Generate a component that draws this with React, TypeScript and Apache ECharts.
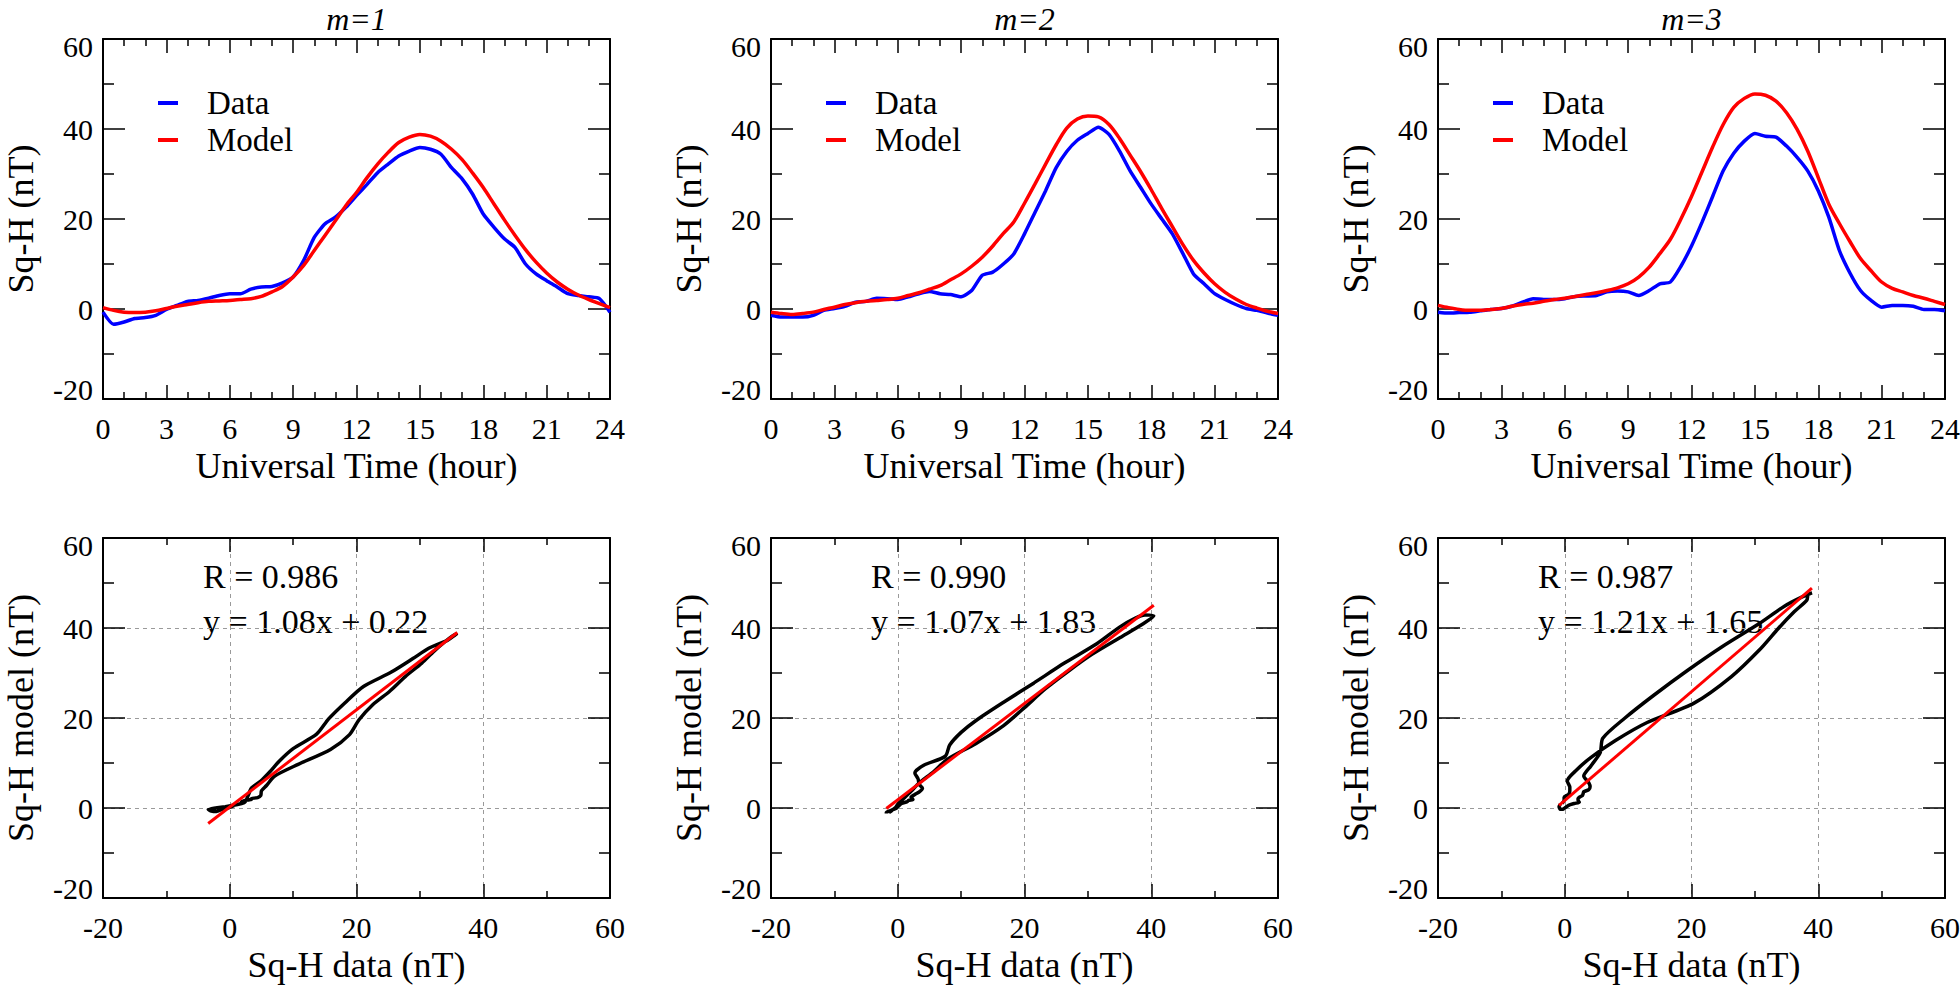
import React, { useEffect, useRef } from "react";
import * as echarts from "echarts";

// ---------- data ----------
const HOURS = [0, 0.5, 1, 1.5, 2, 2.5, 3, 3.5, 4, 4.5, 5, 5.5, 6, 6.5, 7, 7.5, 8, 8.5, 9, 9.5, 10, 10.5, 11, 11.5, 12, 12.5, 13, 13.5, 14, 14.5, 15, 15.5, 16, 16.5, 17, 17.5, 18, 18.5, 19, 19.5, 20, 20.5, 21, 21.5, 22, 22.5, 23, 23.5, 24];

const DATA_M1 = [-0.7, -3.4, -2.9, -2.1, -1.9, -1.4, -0.1, 0.8, 1.7, 1.9, 2.4, 3.0, 3.4, 3.4, 4.4, 4.9, 5.0, 5.8, 7.1, 10.8, 15.9, 18.9, 20.4, 22.6, 25.2, 27.7, 30.3, 32.2, 34.0, 35.1, 35.9, 35.5, 34.4, 31.4, 28.9, 25.5, 21.1, 18.2, 15.6, 13.7, 10.0, 7.8, 6.3, 4.9, 3.4, 3.0, 2.7, 2.3, -0.7];
const MODEL_M1 = [0.3, -0.3, -0.7, -0.8, -0.7, -0.4, 0.1, 0.6, 1.0, 1.4, 1.7, 1.8, 1.9, 2.1, 2.3, 2.8, 3.8, 5.0, 7.1, 9.7, 13.0, 16.3, 19.6, 23.0, 25.9, 29.2, 32.2, 34.8, 37.0, 38.2, 38.8, 38.4, 37.3, 35.5, 33.2, 30.2, 27.0, 23.4, 19.8, 16.4, 13.2, 10.4, 8.0, 6.0, 4.4, 3.1, 2.1, 1.2, 0.3];

const DATA_M2 = [-1.4, -1.8, -1.8, -1.8, -1.4, -0.3, 0.1, 0.6, 1.5, 1.7, 2.4, 2.3, 2.1, 2.7, 3.4, 3.9, 3.4, 3.2, 2.7, 4.1, 7.5, 8.2, 10.0, 12.3, 16.7, 21.5, 26.3, 31.4, 35.0, 37.5, 39.0, 40.4, 38.8, 35.1, 30.7, 27.0, 23.3, 20.0, 16.7, 12.3, 7.8, 5.6, 3.4, 2.1, 1.0, 0.1, -0.3, -0.9, -1.4];
const MODEL_M2 = [-0.7, -1.0, -1.2, -1.0, -0.7, -0.1, 0.4, 1.0, 1.4, 1.7, 1.9, 2.1, 2.4, 3.0, 3.6, 4.4, 5.2, 6.5, 7.8, 9.5, 11.5, 14.0, 16.8, 19.4, 23.5, 27.8, 32.2, 36.5, 40.2, 42.2, 42.9, 42.7, 41.0, 37.9, 34.2, 30.5, 26.5, 22.3, 18.3, 14.3, 10.8, 8.0, 5.6, 3.7, 2.2, 1.0, 0.2, -0.5, -1.0];

const DATA_M3 = [-0.7, -0.9, -0.8, -0.7, -0.4, -0.1, 0.1, 0.6, 1.5, 2.3, 2.1, 2.1, 2.3, 2.8, 2.9, 3.0, 3.8, 4.0, 3.8, 3.0, 4.1, 5.6, 6.0, 9.5, 14.0, 19.3, 25.0, 30.7, 34.6, 37.3, 39.0, 38.4, 38.2, 36.2, 33.7, 30.7, 26.3, 20.4, 13.0, 8.0, 4.1, 1.9, 0.4, 0.8, 0.8, 0.6, -0.1, -0.1, -0.4];
const MODEL_M3 = [0.8, 0.3, -0.1, -0.3, -0.3, -0.1, 0.1, 0.6, 1.0, 1.3, 1.7, 2.1, 2.4, 2.8, 3.2, 3.6, 4.1, 4.7, 5.6, 7.1, 9.3, 12.3, 15.5, 20.0, 25.0, 30.5, 36.0, 41.0, 44.8, 46.8, 47.8, 47.5, 46.2, 43.6, 39.9, 35.1, 29.2, 23.3, 19.0, 15.0, 11.2, 8.5, 6.0, 4.6, 3.8, 3.0, 2.4, 1.7, 1.0];

const PANEL_TITLES = ["m=1", "m=2", "m=3"];
const DATA_SERIES = [DATA_M1, DATA_M2, DATA_M3];
const MODEL_SERIES = [MODEL_M1, MODEL_M2, MODEL_M3];
const R_TEXT = ["R = 0.986", "R = 0.990", "R = 0.987"];
const FIT_SLOPE = [1.08, 1.07, 1.21];
const FIT_INTERCEPT = [0.22, 1.83, 1.65];
const FIT_TEXT = ["y = 1.08x + 0.22", "y = 1.07x + 1.83", "y = 1.21x + 1.65"];

const TIME_MIN = 0;
const TIME_MAX = 24;
const TIME_STEP = 3;
const SQH_MIN = -20;
const SQH_MAX = 60;
const SQH_STEP = 20;

// ---------- layout ----------
const FONT = "Liberation Serif";
const COL_LEFT = [103, 771, 1438];
const ROW_TOP = [39, 538];
const PW = 507;
const PH = 360;

const BLACK = "#000000";

function axisBase(gridIndex: number, min: number, max: number, interval: number, minorSplit: number, majorLen: number, minorLen: number) {
  return {
    type: "value",
    gridIndex,
    min,
    max,
    interval,
    axisLine: { show: true, onZero: false, lineStyle: { color: BLACK, width: 2 } },
    axisTick: { show: true, inside: true, length: majorLen, lineStyle: { color: BLACK, width: 1.5 } },
    minorTick: { show: true, splitNumber: minorSplit, length: minorLen, lineStyle: { color: BLACK, width: 1.5 } },
    minorSplitLine: { show: false },
  };
}

export default function App() {
  const ref = useRef<HTMLDivElement>(null);

  useEffect(() => {
    document.body.style.margin = "0";
    const styleEl = document.createElement("style");
    styleEl.textContent =
      "#chart-root svg text, #chart-root svg tspan { font-family: 'Liberation Serif', 'DejaVu Serif', serif !important; }";
    document.head.appendChild(styleEl);

    const chart = echarts.init(ref.current as HTMLDivElement, undefined, { renderer: "svg" });

    const grids: any[] = [];
    const xAxes: any[] = [];
    const yAxes: any[] = [];
    const series: any[] = [];
    const legends: any[] = [];
    const graphics: any[] = [];

    const labelStyle = { fontSize: 30, fontFamily: FONT, color: BLACK };
    const nameStyle = { fontSize: 36, fontFamily: FONT, color: BLACK };
    const yLabel = {
      show: true,
      margin: 10,
      ...labelStyle,
      formatter: (v: number) => (v === SQH_MAX ? "{hi|" + v + "}" : v === SQH_MIN ? "{lo|" + v + "}" : String(v)),
      rich: {
        hi: { fontSize: 30, fontFamily: FONT, color: BLACK, padding: [14, 0, 0, 0] },
        lo: { fontSize: 30, fontFamily: FONT, color: BLACK, padding: [0, 0, 20, 0] },
      },
    };

    for (let r = 0; r < 2; r++) {
      for (let c = 0; c < 3; c++) {
        const g = r * 3 + c;
        grids.push({ left: COL_LEFT[c], top: ROW_TOP[r], width: PW, height: PH, containLabel: false, outerBoundsMode: "none" });

        const isTime = r === 0;
        const xMin = isTime ? TIME_MIN : SQH_MIN;
        const xMax = isTime ? TIME_MAX : SQH_MAX;
        const xStep = isTime ? TIME_STEP : SQH_STEP;
        const xMinor = isTime ? 3 : 2;
        const gridLine = { show: !isTime, lineStyle: { type: [4, 4], color: "#9a9a9a", width: 1 } };

        xAxes.push({
          ...axisBase(g, xMin, xMax, xStep, xMinor, 14, 7),
          position: "bottom",
          axisLabel: { show: true, margin: 14, ...labelStyle },
          splitLine: gridLine,
          name: isTime ? "Universal Time (hour)" : "Sq-H data (nT)",
          nameLocation: "middle",
          nameGap: 49,
          nameTextStyle: nameStyle,
        });
        xAxes.push({
          ...axisBase(g, xMin, xMax, xStep, xMinor, 14, 7),
          position: "top",
          axisLabel: { show: false },
          splitLine: { show: false },
        });
        yAxes.push({
          ...axisBase(g, SQH_MIN, SQH_MAX, SQH_STEP, 2, 22, 11),
          position: "left",
          axisLabel: yLabel,
          splitLine: gridLine,
          name: isTime ? "Sq-H (nT)" : "Sq-H model (nT)",
          nameLocation: "middle",
          nameGap: 64,
          nameTextStyle: nameStyle,
        });
        yAxes.push({
          ...axisBase(g, SQH_MIN, SQH_MAX, SQH_STEP, 2, 22, 11),
          position: "right",
          axisLabel: { show: false },
          splitLine: { show: false },
        });

        const xi = g * 2;
        const yi = g * 2;
        const dataArr = DATA_SERIES[c];
        const modelArr = MODEL_SERIES[c];

        if (isTime) {
          series.push({
            name: "Data",
            type: "line",
            xAxisIndex: xi,
            yAxisIndex: yi,
            data: HOURS.map((h, i) => [h, dataArr[i]]),
            showSymbol: false,
            smooth: 0.2,
            lineStyle: { color: "#0000ff", width: 3.5 },
            itemStyle: { color: "#0000ff" },
          });
          series.push({
            name: "Model",
            type: "line",
            xAxisIndex: xi,
            yAxisIndex: yi,
            data: HOURS.map((h, i) => [h, modelArr[i]]),
            showSymbol: false,
            smooth: 0.3,
            lineStyle: { color: "#ff0000", width: 3.5 },
            itemStyle: { color: "#ff0000" },
          });
          legends.push({
            orient: "vertical",
            left: COL_LEFT[c] + 55,
            top: ROW_TOP[0] + 64 - 18.5,
            padding: 0,
            itemGap: 0,
            itemWidth: 20,
            itemHeight: 4,
            icon: "rect",
            selectedMode: false,
            data: ["Data", "Model"],
            textStyle: { fontSize: 33, lineHeight: 37, fontFamily: FONT, color: BLACK, padding: [0, 0, 0, 24] },
          });
          graphics.push({
            type: "text",
            x: COL_LEFT[c] + PW / 2,
            y: 19,
            style: { text: PANEL_TITLES[c], fontSize: 32, fontStyle: "italic", fontFamily: FONT, fill: BLACK, align: "center", verticalAlign: "middle" },
          });
        } else {
          const xLo = Math.min(...dataArr);
          const xHi = Math.max(...dataArr);
          series.push({
            name: "Data vs Model " + PANEL_TITLES[c],
            type: "line",
            xAxisIndex: xi,
            yAxisIndex: yi,
            data: dataArr.map((d, i) => [d, modelArr[i]]),
            showSymbol: false,
            smooth: 0.25,
            lineStyle: { color: BLACK, width: 3.5 },
            itemStyle: { color: BLACK },
          });
          series.push({
            name: "Fit " + PANEL_TITLES[c],
            type: "line",
            xAxisIndex: xi,
            yAxisIndex: yi,
            data: [
              [xLo, FIT_SLOPE[c] * xLo + FIT_INTERCEPT[c]],
              [xHi, FIT_SLOPE[c] * xHi + FIT_INTERCEPT[c]],
            ],
            showSymbol: false,
            lineStyle: { color: "#ff0000", width: 3 },
            itemStyle: { color: "#ff0000" },
          });
          graphics.push({
            type: "text",
            x: COL_LEFT[c] + 100,
            y: ROW_TOP[1] + 38,
            style: { text: R_TEXT[c], fontSize: 34, fontFamily: FONT, fill: BLACK, align: "left", verticalAlign: "middle" },
          });
          graphics.push({
            type: "text",
            x: COL_LEFT[c] + 100,
            y: ROW_TOP[1] + 83,
            style: { text: FIT_TEXT[c], fontSize: 34, fontFamily: FONT, fill: BLACK, align: "left", verticalAlign: "middle" },
          });
        }
      }
    }

    chart.setOption({
      animation: false,
      backgroundColor: "#ffffff",
      textStyle: { fontFamily: FONT },
      grid: grids,
      xAxis: xAxes,
      yAxis: yAxes,
      legend: legends,
      series,
      graphic: graphics,
    });

    return () => {
      chart.dispose();
      styleEl.remove();
    };
  }, []);

  return <div id="chart-root" ref={ref} style={{ width: 1960, height: 987 }} />;
}
